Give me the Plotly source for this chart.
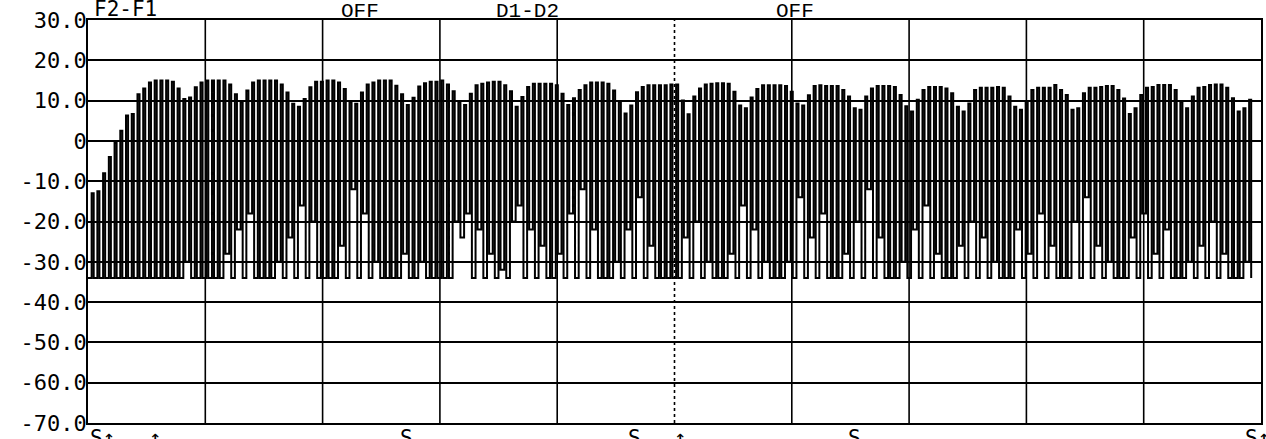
import plotly.graph_objects as go

# peak level of every pulse in the sweep (dB), read left to right
pulse_top = [
    -13, -12.5, -8, -4, -0.5, 2.5, 6.3, 6.7, 11.6, 13,
    14.5, 15, 15, 15, 14.7, 13, 10.4, 10.8, 13.3, 14.5,
    15, 15, 15, 15, 14, 11.6, 9.6, 12.5, 14.5, 15,
    15, 15, 15, 14, 12, 9.2, 8.5, 10.4, 13.3, 14.7,
    14.7, 15, 15, 14.5, 12.9, 9.6, 9.2, 12, 14, 14.5,
    15, 15, 15, 13.7, 11.6, 8.9, 10.7, 13.5, 14.3, 14.7,
    14.7, 15, 14, 12.3, 9.7, 8.9, 11.7, 13.8, 14.2, 14.5,
    14.7, 14.7, 13.8, 12.3, 8.5, 10.9, 13.4, 14.2, 14.2, 14.2,
    14.2, 13.8, 11.7, 8.9, 10.6, 12.6, 13.8, 14.5, 14.5, 14.5,
    14.2, 12.5, 9.7, 6.8, 8.8, 12.1, 13.4, 13.8, 13.8, 13.8,
    13.8, 14, 14, 10, 6.6, 11, 13, 14, 14.2, 14.3,
    14.3, 14.2, 12.2, 8.8, 8.1, 10.8, 12.9, 13.8, 13.8, 13.8,
    13.8, 13.6, 12.2, 9.3, 8.8, 11.3, 13.6, 13.8, 13.6, 13.6,
    13.6, 12.6, 11, 8.1, 7.7, 11, 13, 13.6, 13.6, 13.6,
    13.4, 11.4, 8.6, 7.3, 10.2, 12.6, 13.4, 13.4, 13.4, 13,
    11.8, 8.5, 7.3, 9.3, 12.6, 13.2, 13.2, 13.2, 13.4, 13.2,
    11, 8.5, 7.7, 9.8, 12.6, 13.2, 13.2, 13.2, 13.9, 12.6,
    11.4, 7.7, 8.1, 11.8, 13.2, 13.2, 13.4, 13.6, 13.6, 12.6,
    10.5, 6.7, 8.1, 11.4, 13.2, 13.4, 13.9, 13.9, 13.9, 12.6,
    9.7, 8.1, 11, 13.2, 13.4, 13.9, 14, 14, 13.2, 10.6,
    7.3, 8.1, 10.2,
]

# level the trace falls back to after each pulse (dB)
pulse_floor = [
    -34, -34, -34, -34, -34, -34, -34, -34, -34, -34,
    -34, -34, -34, -34, -34, -34, -30, -34, -34, -34,
    -34, -34, -34, -28, -34, -22, -34, -18, -34, -34,
    -34, -34, -30, -34, -24, -34, -16, -34, -20, -34,
    -34, -34, -34, -26, -34, -12, -34, -18, -34, -30,
    -34, -34, -34, -34, -28, -34, -34, -30, -34, -34,
    -34, -34, -34, -20, -24, -18, -34, -22, -34, -28,
    -34, -32, -34, -20, -16, -34, -22, -34, -26, -34,
    -34, -28, -34, -18, -34, -12, -34, -22, -34, -34,
    -34, -30, -34, -22, -34, -14, -34, -26, -34, -34,
    -34, -34, -34, -24, -34, -20, -34, -30, -34, -34,
    -34, -28, -34, -16, -34, -22, -34, -30, -34, -34,
    -34, -30, -34, -14, -34, -24, -34, -18, -34, -34,
    -34, -28, -34, -20, -34, -12, -34, -24, -34, -34,
    -34, -30, -34, -22, -34, -16, -34, -28, -34, -34,
    -34, -26, -34, -20, -34, -24, -34, -30, -34, -34,
    -34, -22, -34, -28, -34, -18, -34, -26, -34, -34,
    -34, -20, -34, -14, -34, -26, -34, -30, -34, -34,
    -34, -24, -34, -18, -34, -28, -34, -22, -34, -34,
    -34, -30, -34, -26, -34, -20, -34, -28, -34, -34,
    -34, -30, -34,
]

y_ticks = [30, 20, 10, 0, -10, -20, -30, -40, -50, -60, -70]
y_labels = ["30.0", "20.0", "10.0", "0", "-10.0", "-20.0", "-30.0",
            "-40.0", "-50.0", "-60.0", "-70.0"]
top_labels = ["F2-F1", "OFF", "D1-D2", "OFF"]
bottom_labels = ["S↑", "↑", "S", "S", "↑", "S", "S↑"]

# sweep time base, in screen divisions (10 across)
t0 = 0.031
period = 0.04885
high = 0.36 * period

xs, ys = [0], [pulse_floor[0]]
prev = pulse_floor[0]
for i, (top, floor) in enumerate(zip(pulse_top, pulse_floor)):
    t = t0 + i * period
    xs += [t, t, t + high, t + high]
    ys += [prev, top, top, floor]
    prev = floor

fig = go.Figure(go.Scatter(x=xs, y=ys, mode="lines",
                           line=dict(color="black", width=2),
                           hoverinfo="skip"))

# vertical divisions, centre one dotted
for d in range(1, 10):
    fig.add_shape(type="line", x0=d, x1=d, y0=0, y1=1, xref="x", yref="paper",
                  line=dict(color="black", width=1.6, dash="dot" if d == 5 else "solid"),
                  layer="below")

mono = "DejaVu Sans Mono"
for text, pos in zip(top_labels, [0.03, 2.14, 3.46, 5.85]):
    fig.add_annotation(text=text, x=pos, y=1, xref="x", yref="paper",
                       xanchor="left", yanchor="bottom",
                       yshift=-3 if text == "F2-F1" else -5, showarrow=False,
                       font=dict(family=mono if text == "F2-F1" else "Liberation Mono",
                                 size=21, color="black"))
for text, pos in zip(bottom_labels, [0.0, 0.5, 2.64, 4.59, 4.98, 6.46, 9.85]):
    fig.add_annotation(text=text, x=pos, y=0, xref="x", yref="paper",
                       xanchor="left", yanchor="top", yshift=-1, showarrow=False,
                       font=dict(family=mono, size=21, color="black"))

fig.update_xaxes(range=[0, 10], showgrid=False, zeroline=False, showticklabels=False,
                 showline=True, mirror=True, linecolor="black", linewidth=1.6)
fig.update_yaxes(range=[-70, 30], tickvals=y_ticks, ticktext=y_labels,
                 showgrid=True, gridcolor="black", gridwidth=1.6, zeroline=False,
                 showline=True, mirror=True, linecolor="black", linewidth=1.6,
                 ticks="", ticklabelstandoff=-5, ticklabeloverflow="allow",
                 tickfont=dict(family=mono, size=22, color="black"))

fig.update_layout(width=1266, height=439, margin=dict(l=88, r=3, t=20, b=12),
                  paper_bgcolor="white", plot_bgcolor="white", showlegend=False)

# the page's default body margin would shift the fixed-size figure
fig.write_html("out.html", config={"displayModeBar": False},
               post_script="document.body.style.margin='0px';")
